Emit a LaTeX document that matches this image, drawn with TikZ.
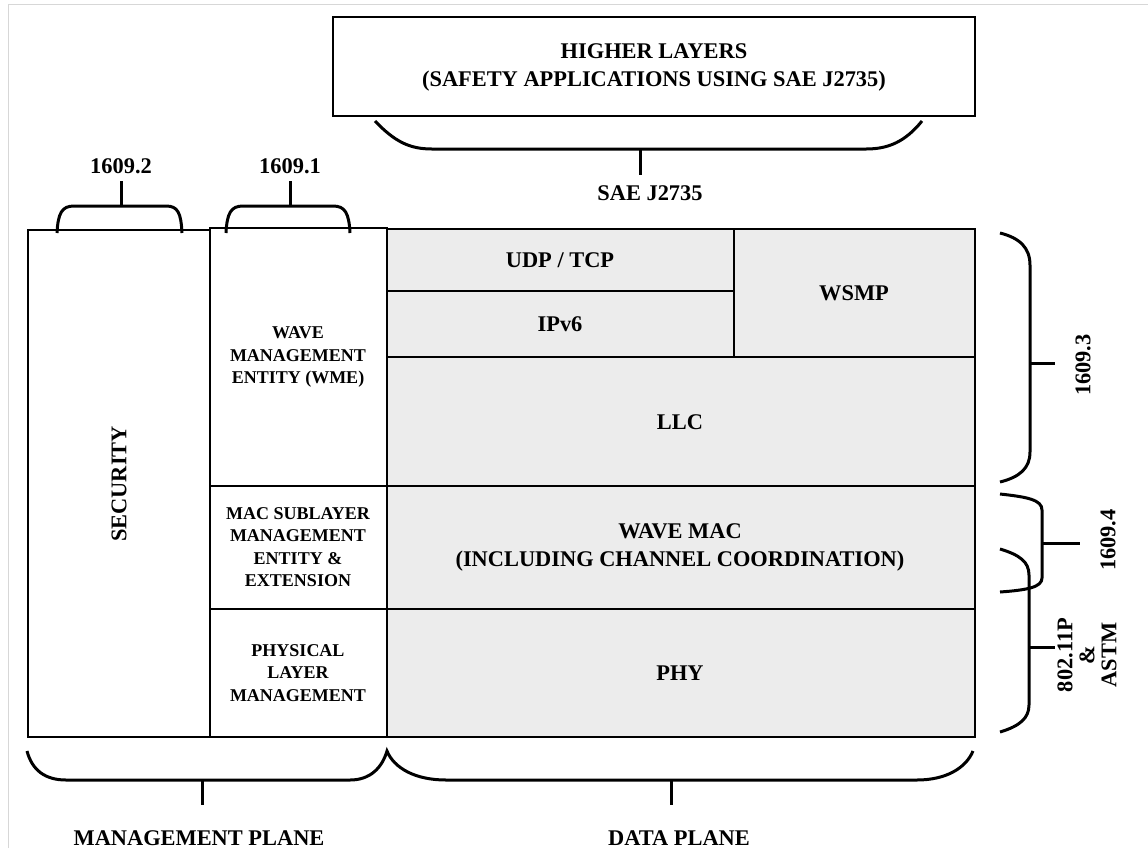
\documentclass[tikz,border=0pt]{standalone}
\usepackage{fontspec}
\setmainfont{Liberation Serif}
\usepackage{tikz}
\definecolor{layergray}{RGB}{236,236,236}
\definecolor{framegray}{RGB}{215,215,215}

\begin{document}
\begin{tikzpicture}[x=0.5pt,y=-0.5pt,
            cell/.style={draw, line width=0.9pt, fill=layergray},
            box/.style={draw, line width=1.2pt, fill=white},
            big/.style={font=\fontsize{11.2}{14}\selectfont\bfseries, align=center},
            small/.style={font=\fontsize{9}{11.2}\selectfont\bfseries, align=center},
            brace/.style={line width=1.5pt}]
        \useasboundingbox (0,0) rectangle (1148,848);
        \draw[framegray] (8,848) -- (8,4) -- (1148,4);

        % higher layers
        \draw[line width=1pt] (333,17) rectangle (975,116);
        \node[big] (hl) at (654,67) {HIGHER LAYERS\\(SAFETY APPLICATIONS USING SAE J2735)};
        \draw[brace] (375,121) .. controls (395,142) and (410,149) .. (432,149) -- (866,149) .. controls (888,149) and (905,142) .. (922,121);
        \draw[brace] (640,149) -- (640,175);
        \node[big] (sae) at (650,193) {SAE J2735};

        % data plane
        \draw[cell] (386,229) rectangle (734,291);
        \draw[cell] (386,291) rectangle (734,357);
        \draw[cell] (734,229) rectangle (975,357);
        \draw[cell] (386,357) rectangle (975,486);
        \draw[cell] (386,486) rectangle (975,609);
        \draw[cell] (386,609) rectangle (975,737);
        \node[big] (udp) at (560,260) {UDP / TCP};
        \node[big] (ipv6) at (560,324) {IPv6};
        \node[big] (wsmp) at (854,293) {WSMP};
        \node[big] (llc) at (680,422) {LLC};
        \node[big] (mac) at (680,547) {WAVE MAC\\(INCLUDING CHANNEL COORDINATION)};
        \node[big] (phy) at (680,673) {PHY};

        % management plane
        \draw[box] (28,230) rectangle (210,737);
        \draw[box] (210,228) rectangle (387,486);
        \draw[box] (210,486) rectangle (387,609);
        \draw[box] (210,609) rectangle (387,737);
        \node[big, rotate=90] (sec) at (119,484) {SECURITY};
        \node[small] (wme) at (298,357) {WAVE\\MANAGEMENT\\ENTITY (WME)};
        \node[small] (mlme) at (298,547) {MAC SUBLAYER\\MANAGEMENT\\ENTITY \&\\EXTENSION};
        \node[small] (plme) at (298,673) {PHYSICAL\\LAYER\\MANAGEMENT};

        % standards on top
        \draw[brace] (57,233) .. controls (58,213) and (62,206) .. (74,206) -- (166,206) .. controls (178,206) and (181,213) .. (182,233);
        \draw[brace] (121,206) -- (121,181) node[big, anchor=south, inner sep=3pt] (std2) {1609.2};
        \draw[brace] (226,233) .. controls (227,213) and (231,206) .. (243,206) -- (333,206) .. controls (345,206) and (349,213) .. (350,233);
        \draw[brace] (290,206) -- (290,181) node[big, anchor=south, inner sep=3pt] (std1) {1609.1};

        % planes
        \draw[brace] (27,751) .. controls (32,770) and (45,780) .. (66,780) -- (350,780) .. controls (370,780) and (382,768) .. (387,751)
            .. controls (394,768) and (415,780) .. (446,780) -- (917,780) .. controls (946,780) and (966,768) .. (973,751);
        \draw[brace] (202,780) -- (202,805);
        \draw[brace] (671,780) -- (671,805);
        \node[big] (mgmt) at (199,838) {MANAGEMENT PLANE};
        \node[big] (data) at (679,838) {DATA PLANE};

        % standards on the right
        \draw[brace] (1000,233) .. controls (1020,238) and (1030,248) .. (1030,265) -- (1030,452) .. controls (1030,468) and (1020,477) .. (1000,482);
        \draw[brace] (1030,363) -- (1055,363);
        \node[big, rotate=90] (std3) at (1083,365) {1609.3};
        \draw[brace] (1000,494) .. controls (1028,497) and (1042,500) .. (1042,510) -- (1042,578) .. controls (1042,587) and (1028,590) .. (1000,592);
        \draw[brace] (1042,543) -- (1080,543);
        \node[big, rotate=90] (std4) at (1108,540) {1609.4};
        \draw[brace] (1000,549) .. controls (1020,555) and (1029,562) .. (1029,575) -- (1029,705) .. controls (1029,718) and (1020,726) .. (1000,732);
        \draw[brace] (1029,647) -- (1055,647);
        \node[big, rotate=90, font=\fontsize{11.2}{11}\selectfont\bfseries] (std5) at (1087,655) {802.11P\\\&\\ASTM};
    \end{tikzpicture}
\end{document}
